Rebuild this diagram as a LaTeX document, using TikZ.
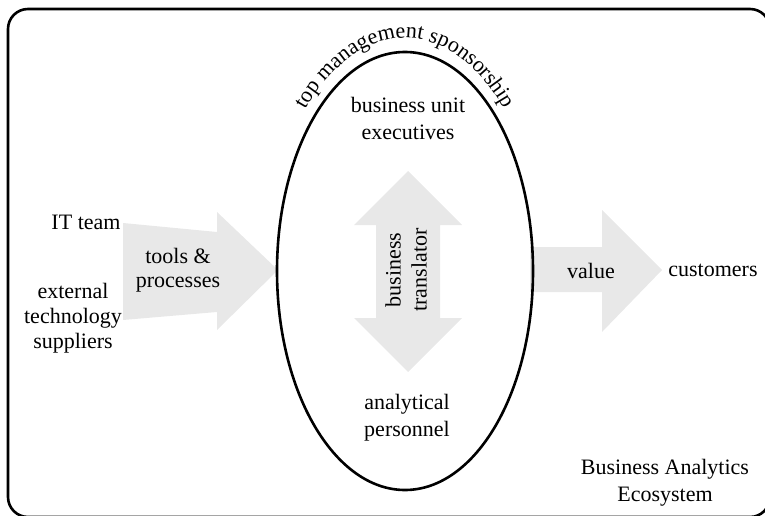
\documentclass[tikz,border=0pt]{standalone}
\usepackage{fontspec}
\setmainfont{Liberation Serif}
\usetikzlibrary{decorations.text,calc}
\tikzset{
  lbl/.style={font=\fontsize{22}{26}\selectfont, align=center, inner sep=0pt},
  bigarrow/.style={fill=black!9, draw=none},
  frame/.style={line width=2.6pt, rounded corners=20pt},
  oval/.style={line width=2.6pt}
}
\begin{document}
\begin{tikzpicture}[x=1pt,y=1pt]
\useasboundingbox (0,0) rectangle (765,515);
\begin{scope}
\clip (0,0) rectangle (765,515);
\draw[frame] (8,506) rectangle (770,-2);
\end{scope}
% arrows
\fill[bigarrow] (123,292) -- (217,283) -- (217,303) -- (278,245) -- (217,185) -- (217,203) -- (123,195) -- cycle;
\fill[bigarrow] (530,268) -- (602,268) -- (602,305) -- (662,245) -- (602,183) -- (602,223) -- (530,223) -- cycle;
\fill[bigarrow] (408,344) -- (462,290) -- (440,290) -- (440,197) -- (462,197) -- (408,143) -- (354,197) -- (376,197) -- (376,290) -- (354,290) -- cycle;
% ellipse
\coordinate (c) at (405,244);
\draw[oval] (c) ellipse [x radius=128, y radius=219];
\path[decorate, decoration={text along path, text align=center,
  text={|\fontsize{22}{26}\selectfont|top management sponsorship}}]
  ($(c)+({138*cos(150)},{233*sin(150)})$) arc[start angle=150, end angle=30, x radius=138, y radius=233];
% labels
\node[lbl] (it) at (86,293) {IT team};
\node[lbl, font=\fontsize{22}{25}\selectfont] (ext) at (73,197) {external\\technology\\suppliers};
\node[lbl, font=\fontsize{22}{24}\selectfont] (tools) at (178,245) {tools \&\\processes};
\node[lbl, font=\fontsize{22}{27}\selectfont] (bue) at (408,397) {business unit\\executives};
\node[lbl, rotate=90] (bt) at (406,245) {business\\translator};
\node[lbl, font=\fontsize{22}{27}\selectfont] (ap) at (407,97) {analytical\\personnel};
\node[lbl] (val) at (591,244) {value};
\node[lbl] (cust) at (713,245) {customers};
\node[lbl, font=\fontsize{22}{27}\selectfont] (bae) at (665,32) {Business Analytics\\Ecosystem};
\end{tikzpicture}
\end{document}
